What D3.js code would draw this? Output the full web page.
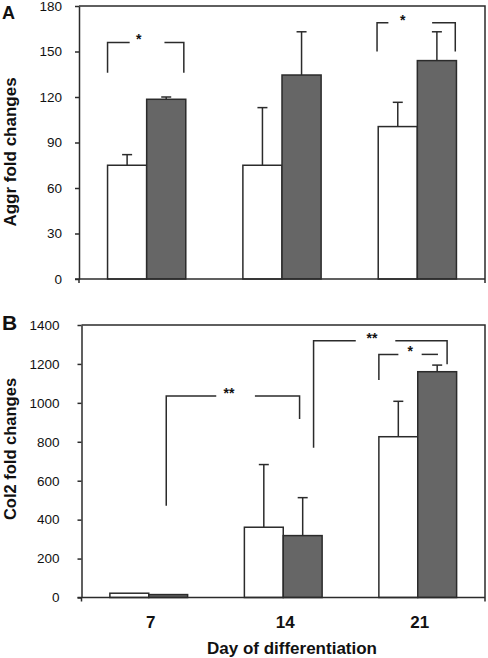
<!DOCTYPE html>
<html>
<head>
<meta charset="utf-8">
<script src="https://cdn.jsdelivr.net/npm/d3@7"></script>
<style>
  html, body { margin: 0; padding: 0; background: #fff; }
  svg { display: block; font-family: "Liberation Sans", Arial, sans-serif; }
</style>
</head>
<body>
<svg id="chart" width="488" height="658"></svg>
<script>
// ---------------- DATA ----------------
const categories = ["7", "14", "21"];
const series = ["control", "treated"];

// Panel A: Aggr fold changes
const aggrTicks = [0, 30, 60, 90, 120, 150, 180];
const aggrControl = [75, 75, 100.5];
const aggrControlErr = [7, 38, 16];
const aggrTreated = [118.5, 134.5, 144];
const aggrTreatedErr = [1.5, 28.5, 19];

// Panel B: Col2 fold changes
const col2Ticks = [0, 200, 400, 600, 800, 1000, 1200, 1400];
const col2Control = [22, 361, 826];
const col2ControlErr = [0, 322, 182];
const col2Treated = [15, 318, 1160];
const col2TreatedErr = [0, 195, 34];

// Significance brackets (bar references + heights in data units)
const aggrSig = [
  { label: "*",  from: ["7", "control", 0],  to: ["7", "treated", 0.95],  top: 156, leftEnd: 136, rightEnd: 136 },
  { label: "*",  from: ["21", "control", -0.03], to: ["21", "treated", 0.97], top: 169, leftEnd: 150, rightEnd: 150 }
];
const col2Sig = [
  { label: "**", from: ["7", "treated", 0.45],  to: ["14", "treated", 0.42], top: 1035, leftEnd: 471, rightEnd: 917 },
  { label: "**", from: ["14", "treated", 0.78], to: ["21", "treated", 0.755], top: 1319, leftEnd: 770, rightEnd: 1198 },
  { label: "*",  from: ["21", "control", 0],    to: ["21", "treated", 0.52], top: 1249, leftEnd: 1117, rightEnd: 1249 }
];
// label gap layout (fractions of bracket width): [gap start, gap end, label centre]
const aggrSigGap = [[0.29, 0.746, 0.41], [0.145, 0.704, 0.327]];
const col2SigGap = [[0.375, 0.665, 0.471], [0.316, 0.612, 0.437], [0.33, 0.724, 0.53]];

// ---------------- DRAW ----------------
const svg = d3.select("#chart");
const LINE = "#2b2b2b";
const DARK = "#666666";

function panel(cfg) {
  const g = svg.append("g");
  const x = d3.scaleBand().domain(categories).range([cfg.left, cfg.right]);
  const inner = d3.scaleBand().domain(series).range([0, x.bandwidth()]).paddingOuter(0.73);
  const y = d3.scaleLinear().domain([0, cfg.max]).range([cfg.bottom, cfg.top]);

  const rows = [];
  categories.forEach((c, i) => {
    rows.push({ cat: c, s: "control", v: cfg.ctrl[i], e: cfg.ctrlErr[i] });
    rows.push({ cat: c, s: "treated", v: cfg.trt[i], e: cfg.trtErr[i] });
  });
  const bx = (c, s) => x(c) + inner(s);
  const bw = inner.bandwidth();

  // frame (top and right)
  g.append("path")
    .attr("d", `M${cfg.left},${cfg.top}H${cfg.right}V${cfg.bottom + 4}`)
    .attr("fill", "none").attr("stroke", LINE).attr("stroke-width", 1.5);

  // error bars
  const eb = g.append("g").attr("stroke", LINE).attr("stroke-width", 1.5).attr("fill", "none");
  rows.filter(d => d.e > 0).forEach(d => {
    const cx = bx(d.cat, d.s) + bw / 2;
    eb.append("line").attr("x1", cx).attr("x2", cx).attr("y1", y(d.v)).attr("y2", y(d.v + d.e));
    eb.append("line").attr("x1", cx - 5).attr("x2", cx + 5).attr("y1", y(d.v + d.e)).attr("y2", y(d.v + d.e));
  });

  // bars
  g.append("g").selectAll("rect").data(rows).join("rect")
    .attr("x", d => bx(d.cat, d.s))
    .attr("y", d => y(d.v))
    .attr("width", bw)
    .attr("height", d => y(0) - y(d.v))
    .attr("fill", d => d.s === "control" ? "#ffffff" : DARK)
    .attr("stroke", LINE).attr("stroke-width", 1.5);

  // y axis
  const ya = g.append("g").attr("transform", `translate(${cfg.left},0)`)
    .call(d3.axisLeft(y).tickValues(cfg.ticks).tickFormat(d3.format("d"))
      .tickSize(4).tickPadding(cfg.tickPad).tickSizeOuter(0));
  ya.select(".domain").attr("stroke", LINE).attr("stroke-width", 1.5);
  ya.selectAll(".tick line").attr("stroke", LINE).attr("stroke-width", 1.5);
  ya.selectAll("text").attr("font-size", 13.5).attr("fill", "#111")
    .attr("font-family", "'Liberation Sans', Arial, sans-serif");

  // x axis baseline
  g.append("line").attr("x1", cfg.left - 4).attr("x2", cfg.right)
    .attr("y1", cfg.bottom).attr("y2", cfg.bottom)
    .attr("stroke", LINE).attr("stroke-width", 1.5);
  g.append("line").attr("x1", cfg.left).attr("x2", cfg.left)
    .attr("y1", cfg.bottom).attr("y2", cfg.bottom + 4)
    .attr("stroke", LINE).attr("stroke-width", 1.5);

  if (cfg.xLabels) {
    g.append("g").selectAll("text").data(categories).join("text")
      .attr("x", d => x(d) + x.bandwidth() / 2 + 2)
      .attr("y", cfg.bottom + 30)
      .attr("text-anchor", "middle")
      .attr("font-size", 17).attr("font-weight", "bold").attr("fill", "#111")
      .text(d => d);
  }

  // y label
  g.append("text")
    .attr("transform", `translate(${cfg.yLabelX},${cfg.yLabelY}) rotate(-90)`)
    .attr("text-anchor", "middle")
    .attr("font-size", cfg.yLabelSize).attr("font-weight", "bold").attr("fill", "#111")
    .text(cfg.yLabel);

  // panel letter
  g.append("text").attr("x", 2).attr("y", cfg.letterY)
    .attr("font-size", cfg.letterSize).attr("font-weight", "bold").attr("fill", "#111")
    .text(cfg.letter);

  // significance brackets
  const sg = g.append("g").attr("stroke", LINE).attr("stroke-width", 1.5).attr("fill", "none");
  cfg.sig.forEach((b, i) => {
    const [gs, ge, lc] = cfg.gap[i];
    const x1 = bx(b.from[0], b.from[1]) + b.from[2] * bw;
    const x2 = bx(b.to[0], b.to[1]) + b.to[2] * bw;
    const w = x2 - x1;
    const yt = y(b.top);
    sg.append("path").attr("d", `M${x1},${y(b.leftEnd)}V${yt}H${x1 + gs * w}`);
    sg.append("path").attr("d", `M${x1 + ge * w},${yt}H${x2}V${y(b.rightEnd)}`);
    g.append("text").attr("x", x1 + lc * w).attr("y", yt + 2)
      .attr("text-anchor", "middle").attr("font-size", 14).attr("font-weight", "bold")
      .attr("fill", "#111").text(b.label);
  });
}

panel({
  left: 79, right: 485, top: 6, bottom: 279, max: 180, ticks: aggrTicks, tickPad: 13,
  ctrl: aggrControl, ctrlErr: aggrControlErr, trt: aggrTreated, trtErr: aggrTreatedErr,
  yLabel: "Aggr fold changes", yLabelX: 16, yLabelY: 152, yLabelSize: 17,
  letter: "A", letterY: 19, letterSize: 18,
  sig: aggrSig, gap: aggrSigGap, xLabels: false
});

panel({
  left: 81.5, right: 485, top: 325, bottom: 597.5, max: 1400, ticks: col2Ticks, tickPad: 18,
  ctrl: col2Control, ctrlErr: col2ControlErr, trt: col2Treated, trtErr: col2TreatedErr,
  yLabel: "Col2 fold changes", yLabelX: 16, yLabelY: 449, yLabelSize: 16.5,
  letter: "B", letterY: 330, letterSize: 21,
  sig: col2Sig, gap: col2SigGap, xLabels: true
});

svg.append("text").attr("x", 292).attr("y", 654)
  .attr("text-anchor", "middle").attr("font-size", 17).attr("font-weight", "bold").attr("fill", "#111")
  .text("Day of differentiation");
</script>
</body>
</html>
